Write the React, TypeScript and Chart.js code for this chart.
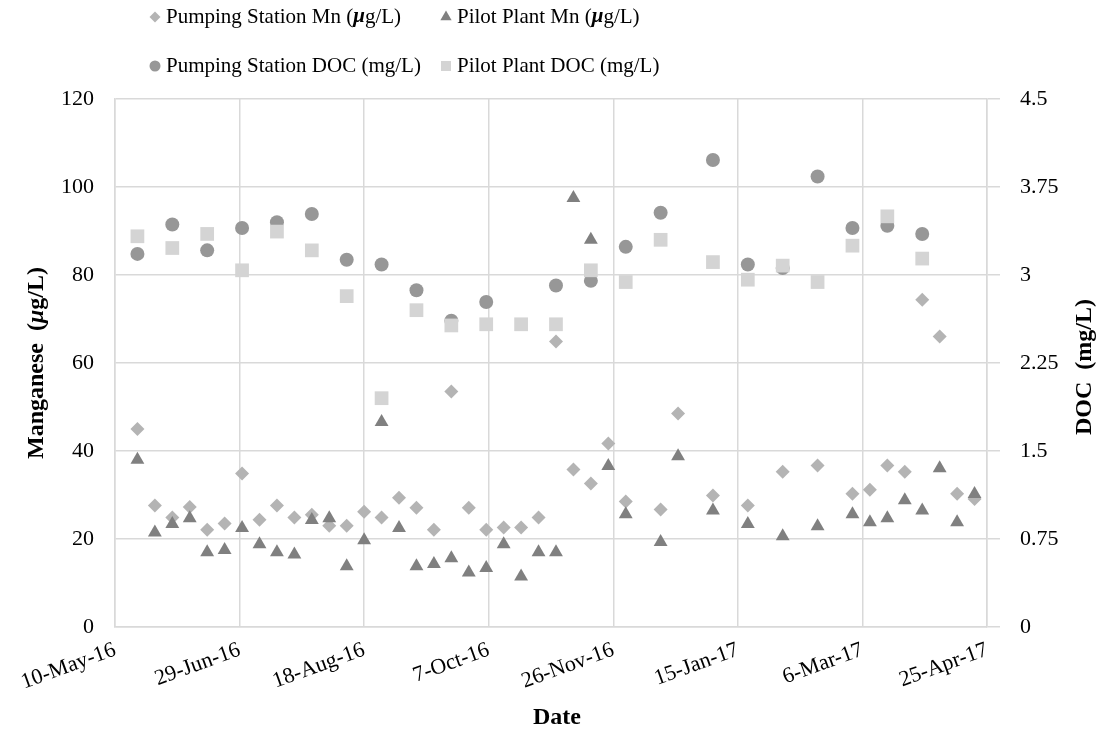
import React, { useEffect, useRef } from 'react';
import { Chart, registerables } from 'chart.js';

Chart.register(...registerables);

const SERIF = '"Liberation Serif", "Times New Roman", serif';

// Axis origin and tick labels (x axis counts days from the first label, major unit 50 days)
const AXIS_START = '2016-05-10';
const xTickLabels = ['10-May-16', '29-Jun-16', '18-Aug-16', '7-Oct-16', '26-Nov-16', '15-Jan-17', '6-Mar-17', '25-Apr-17'];
const mnTickLabels = ['0', '20', '40', '60', '80', '100', '120'];
const docTickLabels = ['0', '0.75', '1.5', '2.25', '3', '3.75', '4.5'];

// Weekly manganese sampling dates
const mnDates = [
  '2016-05-19', '2016-05-26', '2016-06-02', '2016-06-09', '2016-06-16', '2016-06-23', '2016-06-30',
  '2016-07-07', '2016-07-14', '2016-07-21', '2016-07-28', '2016-08-04', '2016-08-11', '2016-08-18',
  '2016-08-25', '2016-09-01', '2016-09-08', '2016-09-15', '2016-09-22', '2016-09-29', '2016-10-06',
  '2016-10-13', '2016-10-20', '2016-10-27', '2016-11-03', '2016-11-10', '2016-11-17', '2016-11-24',
  '2016-12-01', '2016-12-15', '2016-12-22', '2017-01-05', '2017-01-19', '2017-02-02', '2017-02-16',
  '2017-03-02', '2017-03-09', '2017-03-16', '2017-03-23', '2017-03-30', '2017-04-06', '2017-04-13',
  '2017-04-20',
];

// Manganese, µg/L
const pumpingMn = [
  45.0, 27.6, 24.9, 27.3, 22.1, 23.5, 34.9,
  24.4, 27.6, 24.9, 25.5, 23.0, 23.0, 26.2,
  24.9, 29.4, 27.1, 22.1, 53.5, 27.1, 22.1,
  22.6, 22.6, 24.9, 64.9, 35.8, 32.6, 41.7,
  28.5, 26.7, 48.5, 29.9, 27.6, 35.3, 36.7,
  30.3, 31.2, 36.7, 35.3, 74.4, 66.0, 30.3,
  29.1,
];
const pilotMn = [
  38.0, 21.5, 23.4, 24.7, 17.0, 17.5, 22.5,
  18.8, 17.0, 16.5, 24.3, 24.7, 13.8, 19.7,
  46.6, 22.5, 13.8, 14.3, 15.6, 12.4, 13.4,
  18.8, 11.5, 17.0, 17.0, 97.5, 88.0, 36.6,
  25.6, 19.3, 38.8, 26.5, 23.4, 20.6, 22.9,
  25.6, 23.8, 24.7, 28.8, 26.5, 36.1, 23.8,
  30.2,
];

// Fortnightly DOC sampling dates
const pumpingDocDates = [
  '2016-05-19', '2016-06-02', '2016-06-16', '2016-06-30', '2016-07-14', '2016-07-28', '2016-08-11',
  '2016-08-25', '2016-09-08', '2016-09-22', '2016-10-06', '2016-11-03', '2016-11-17', '2016-12-01',
  '2016-12-15', '2017-01-05', '2017-01-19', '2017-02-02', '2017-02-16', '2017-03-02', '2017-03-16',
  '2017-03-30',
];
const pilotDocDates = [
  '2016-05-19', '2016-06-02', '2016-06-16', '2016-06-30', '2016-07-14', '2016-07-28', '2016-08-11',
  '2016-08-25', '2016-09-08', '2016-09-22', '2016-10-06', '2016-10-20', '2016-11-03', '2016-11-17',
  '2016-12-01', '2016-12-15', '2017-01-05', '2017-01-19', '2017-02-02', '2017-02-16', '2017-03-02',
  '2017-03-16', '2017-03-30',
];

// DOC, mg/L
const pumpingDoc = [
  3.18, 3.43, 3.21, 3.40, 3.45, 3.52, 3.13,
  3.09, 2.87, 2.61, 2.77, 2.91, 2.95, 3.24,
  3.53, 3.98, 3.09, 3.06, 3.84, 3.40, 3.42,
  3.35,
];
const pilotDoc = [
  3.33, 3.23, 3.35, 3.04, 3.37, 3.21, 2.82,
  1.95, 2.70, 2.57, 2.58, 2.58, 2.58, 3.04,
  2.94, 3.30, 3.11, 2.96, 3.08, 2.94, 3.25,
  3.50, 3.14,
];

const COLORS = {
  pumpingMn: '#b4b4b4',
  pilotMn: '#808080',
  pumpingDoc: '#979797',
  pilotDoc: '#d4d4d4',
  grid: '#d9d9d9',
};

const dayOf = (d: string) => (Date.parse(d) - Date.parse(AXIS_START)) / 86400000;
const toPoints = (dates: string[], values: number[]) => dates.map((d, i) => ({ x: dayOf(d), y: values[i] }));

type Run = { text: string; font: string };

function runsWidth(ctx: CanvasRenderingContext2D, runs: Run[]) {
  let w = 0;
  for (const r of runs) {
    ctx.font = r.font;
    w += ctx.measureText(r.text).width;
  }
  return w;
}

// Draws text made of several font runs, starting at x (left aligned, middle baseline)
function drawRuns(ctx: CanvasRenderingContext2D, runs: Run[], x: number, y: number) {
  ctx.textBaseline = 'middle';
  ctx.textAlign = 'left';
  let cx = x;
  for (const r of runs) {
    ctx.font = r.font;
    ctx.fillText(r.text, cx, y);
    cx += ctx.measureText(r.text).width;
  }
}

function drawMarker(ctx: CanvasRenderingContext2D, style: string, x: number, y: number, color: string) {
  ctx.fillStyle = color;
  ctx.beginPath();
  if (style === 'rectRot') {
    const r = 5.5;
    ctx.moveTo(x, y - r);
    ctx.lineTo(x + r, y);
    ctx.lineTo(x, y + r);
    ctx.lineTo(x - r, y);
  } else if (style === 'triangle') {
    const r = 6.5;
    ctx.moveTo(x, y - r);
    ctx.lineTo(x + r * 0.866, y + r * 0.5);
    ctx.lineTo(x - r * 0.866, y + r * 0.5);
  } else if (style === 'circle') {
    ctx.arc(x, y, 5.5, 0, Math.PI * 2);
  } else {
    ctx.rect(x - 5, y - 5, 10, 10);
  }
  ctx.closePath();
  ctx.fill();
}

const legendFont = `21px ${SERIF}`;
const legendMuFont = `italic bold 21px ${SERIF}`;
const titleFont = `bold 24px ${SERIF}`;
const titleMuFont = `italic bold 24px ${SERIF}`;

const legendItems = [
  { style: 'rectRot', color: COLORS.pumpingMn, col: 0, row: 0,
    runs: [{ text: 'Pumping Station Mn (', font: legendFont }, { text: 'μ', font: legendMuFont }, { text: 'g/L)', font: legendFont }] },
  { style: 'triangle', color: COLORS.pilotMn, col: 1, row: 0,
    runs: [{ text: 'Pilot Plant Mn (', font: legendFont }, { text: 'μ', font: legendMuFont }, { text: 'g/L)', font: legendFont }] },
  { style: 'circle', color: COLORS.pumpingDoc, col: 0, row: 1,
    runs: [{ text: 'Pumping Station DOC (mg/L)', font: legendFont }] },
  { style: 'rect', color: COLORS.pilotDoc, col: 1, row: 1,
    runs: [{ text: 'Pilot Plant DOC (mg/L)', font: legendFont }] },
];
const legendCols = [155, 446];
const legendRows = [17, 66];

const overlayPlugin = {
  id: 'legendAndTitles',
  afterDraw(chart: Chart) {
    const ctx = chart.ctx;
    const area = chart.chartArea;
    ctx.save();
    ctx.fillStyle = '#000';

    for (const item of legendItems) {
      const mx = legendCols[item.col];
      const my = legendRows[item.row];
      drawMarker(ctx, item.style, mx, my, item.color);
      ctx.fillStyle = '#000';
      drawRuns(ctx, item.runs, mx + 11, my);
    }

    // Left axis title, reading bottom to top
    const leftTitle: Run[] = [
      { text: 'Manganese  (', font: titleFont },
      { text: 'μ', font: titleMuFont },
      { text: 'g/L)', font: titleFont },
    ];
    const cy = (area.top + area.bottom) / 2;
    ctx.save();
    ctx.translate(37, cy);
    ctx.rotate(-Math.PI / 2);
    drawRuns(ctx, leftTitle, -runsWidth(ctx, leftTitle) / 2, 0);
    ctx.restore();

    // Right axis title, also reading bottom to top
    const rightTitle: Run[] = [{ text: 'DOC  (mg/L)', font: titleFont }];
    ctx.save();
    ctx.translate(1085, cy + 4);
    ctx.rotate(-Math.PI / 2);
    drawRuns(ctx, rightTitle, -runsWidth(ctx, rightTitle) / 2, 0);
    ctx.restore();

    // Bottom axis title
    const bottomTitle: Run[] = [{ text: 'Date', font: titleFont }];
    drawRuns(ctx, bottomTitle, (area.left + area.right) / 2 - runsWidth(ctx, bottomTitle) / 2 + 6, 718);

    ctx.restore();
  },
};

export default function App() {
  const canvasRef = useRef<HTMLCanvasElement | null>(null);

  useEffect(() => {
    if (!canvasRef.current) return;
    Chart.defaults.font.family = SERIF;
    Chart.defaults.color = '#000';

    const chart = new Chart(canvasRef.current, {
      type: 'scatter',
      data: {
        datasets: [
          {
            label: 'Pumping Station Mn (μg/L)',
            data: toPoints(mnDates, pumpingMn),
            yAxisID: 'y',
            pointStyle: 'rectRot',
            pointRadius: 7,
            backgroundColor: COLORS.pumpingMn,
            borderWidth: 0,
            order: 4,
          },
          {
            label: 'Pilot Plant Mn (μg/L)',
            data: toPoints(mnDates, pilotMn),
            yAxisID: 'y',
            pointStyle: 'triangle',
            pointRadius: 8,
            backgroundColor: COLORS.pilotMn,
            borderWidth: 0,
            order: 3,
          },
          {
            label: 'Pumping Station DOC (mg/L)',
            data: toPoints(pumpingDocDates, pumpingDoc),
            yAxisID: 'y2',
            pointStyle: 'circle',
            pointRadius: 7,
            backgroundColor: COLORS.pumpingDoc,
            borderWidth: 0,
            order: 2,
          },
          {
            label: 'Pilot Plant DOC (mg/L)',
            data: toPoints(pilotDocDates, pilotDoc),
            yAxisID: 'y2',
            pointStyle: 'rect',
            pointRadius: 9.7,
            backgroundColor: COLORS.pilotDoc,
            borderWidth: 0,
            order: 1,
          },
        ],
      },
      options: {
        responsive: false,
        animation: false,
        events: [],
        layout: { padding: { top: 99, left: 0, right: 0, bottom: 0 } },
        plugins: {
          legend: { display: false },
          tooltip: { enabled: false },
        },
        scales: {
          x: {
            type: 'linear',
            min: 0,
            max: 350,
            afterFit: (s: any) => { s.height = 107; },
            grid: { color: COLORS.grid, lineWidth: 1.5, drawTicks: false },
            border: { color: COLORS.grid, width: 1.5 },
            ticks: {
              stepSize: 50,
              autoSkip: false,
              minRotation: 20,
              maxRotation: 20,
              padding: 10,
              font: { size: 22 },
              callback: (v: any) => xTickLabels[Math.round(Number(v) / 50)] ?? '',
            },
          },
          y: {
            position: 'left',
            min: 0,
            max: 120,
            afterFit: (s: any) => { s.width = 115; },
            grid: { color: COLORS.grid, lineWidth: 1.5, drawTicks: false },
            border: { color: COLORS.grid, width: 1.5 },
            ticks: {
              stepSize: 20,
              padding: 21,
              font: { size: 22 },
              callback: (v: any) => mnTickLabels[Math.round(Number(v) / 20)] ?? '',
            },
          },
          y2: {
            position: 'right',
            min: 0,
            max: 4.5,
            afterFit: (s: any) => { s.width = 116; },
            grid: { color: COLORS.grid, lineWidth: 1.5, drawOnChartArea: false, drawTicks: true, tickLength: 13 },
            border: { color: COLORS.grid, width: 1.5 },
            ticks: {
              stepSize: 0.75,
              padding: 20,
              font: { size: 22 },
              callback: (v: any) => docTickLabels[Math.round(Number(v) / 0.75)] ?? '',
            },
          },
        },
      },
      plugins: [overlayPlugin],
    });

    return () => chart.destroy();
  }, []);

  return (
    <div style={{ position: 'absolute', left: 0, top: 0, width: 1103, height: 734, background: '#fff' }}>
      <canvas ref={canvasRef} width={1103} height={734} />
    </div>
  );
}
